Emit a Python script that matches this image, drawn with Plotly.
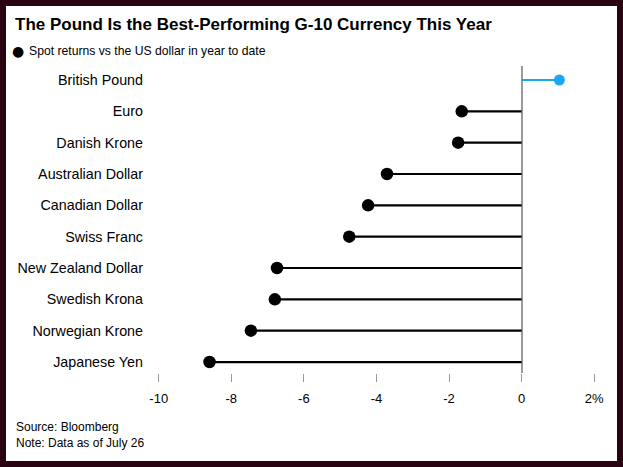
import plotly.graph_objects as go

currencies = ["British Pound", "Euro", "Danish Krone", "Australian Dollar",
              "Canadian Dollar", "Swiss Franc", "New Zealand Dollar",
              "Swedish Krona", "Norwegian Krone", "Japanese Yen"]
returns = [1.04, -1.65, -1.75, -3.71, -4.23, -4.75, -6.74, -6.80, -7.46, -8.60]
x_ticks = [-10, -8, -6, -4, -2, 0, 2]
x_tick_labels = ["-10", "-8", "-6", "-4", "-2", "0", "2%"]

W, H = 623, 467
ML, MR, MT, MB = 150, 11, 66, 94
BLUE = "#1ba8f0"
BORDER = "#2a0312"
FONT = "Liberation Sans, Arial, sans-serif"

fig = go.Figure()

# stems
for c, v in zip(currencies, returns):
    col = BLUE if v > 0 else "black"
    fig.add_trace(go.Scatter(x=[0, v], y=[c, c], mode="lines",
                             line=dict(color=col, width=2.2),
                             hoverinfo="skip", showlegend=False))

fig.add_trace(go.Scatter(
    x=returns, y=currencies, mode="markers",
    marker=dict(size=[11 if v > 0 else 12.5 for v in returns],
                color=[BLUE if v > 0 else "#000000" for v in returns],
                opacity=1, line=dict(width=0)),
    opacity=1, showlegend=False))

pw = W - ML - MR
ph = H - MT - MB
# white panel inside dark frame (paper coords relative to plot area)
x0 = (6 - ML) / pw
x1 = (617 - ML) / pw
y1 = 1 + (MT - 6) / ph
y0 = -(461 - (H - MB)) / ph
fig.add_shape(type="rect", xref="paper", yref="paper", x0=x0, x1=x1, y0=y0, y1=y1,
              fillcolor="white", line_width=0, layer="below")

def px(x):
    return (x - ML) / pw

def py(y):
    return 1 - (y - MT) / ph

fig.update_layout(
    width=W, height=H,
    margin=dict(l=ML, r=MR, t=MT, b=MB),
    paper_bgcolor=BORDER, plot_bgcolor="rgba(0,0,0,0)",
    font=dict(family=FONT, color="black"),
    hovermode=False,
    xaxis=dict(range=[-10.24, 2.49], tickvals=x_ticks, ticktext=x_tick_labels,
               showgrid=False, zeroline=True, zerolinecolor="#9a9a9a", zerolinewidth=1.5,
               showline=False, ticks="outside", ticklen=8, tickwidth=1, tickcolor="#9a9a9a",
               tickfont=dict(size=13, color="black"), ticklabelstandoff=5, fixedrange=True),
    yaxis=dict(categoryorder="array", categoryarray=currencies,
               range=[9.35, -0.447], showgrid=False, zeroline=False, showline=False,
               ticks="", tickfont=dict(size=14.3, color="black"), ticklabelstandoff=6,
               fixedrange=True),
    annotations=[
        dict(text="<b>The Pound Is the Best-Performing G-10 Currency This Year</b>",
             xref="paper", yref="paper", x=px(13), y=py(13),
             xanchor="left", yanchor="top", showarrow=False,
             font=dict(size=17, family=FONT, color="black")),
        dict(text="●", xref="paper", yref="paper", x=px(18), y=py(51),
             xanchor="center", yanchor="middle", showarrow=False,
             font=dict(size=14, family="DejaVu Sans", color="black")),
        dict(text="Spot returns vs the US dollar in year to date",
             xref="paper", yref="paper", x=px(27), y=py(51),
             xanchor="left", yanchor="middle", showarrow=False,
             font=dict(size=12.2, family=FONT, color="black")),
        dict(text="Source: Bloomberg<br>Note: Data as of July 26",
             xref="paper", yref="paper", x=px(14), y=py(418),
             xanchor="left", yanchor="top", align="left", showarrow=False,
             font=dict(size=12, family=FONT, color="black")),
    ],
)

fig.write_html("out.html", config={"displayModeBar": False},
               post_script="document.body.style.margin='0';document.body.style.padding='0';")
